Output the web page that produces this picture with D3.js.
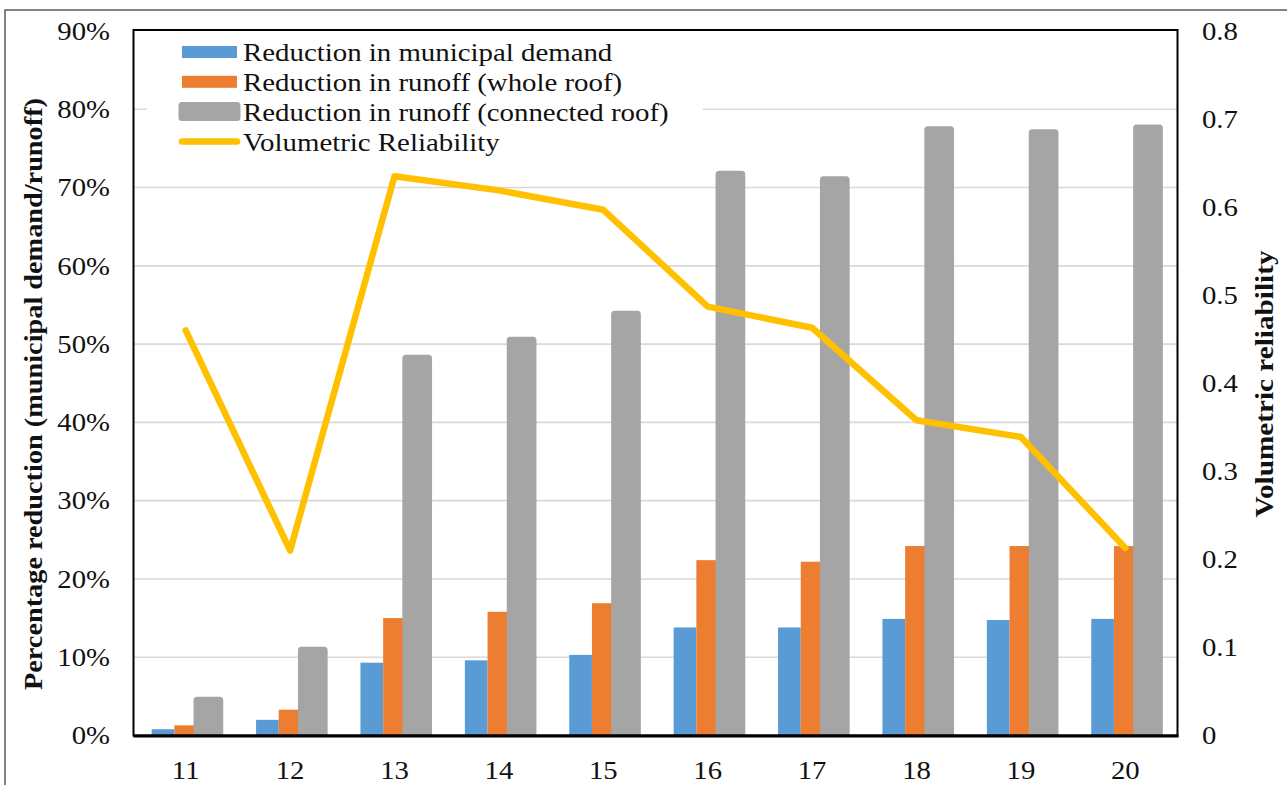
<!DOCTYPE html>
<html><head><meta charset="utf-8">
<script src="https://cdn.jsdelivr.net/npm/d3@7"></script>
<style>html,body{margin:0;padding:0;background:#fff;}svg{display:block;}</style>
</head><body>
<script>
const categories = ["11","12","13","14","15","16","17","18","19","20"];
const municipalDemand = [0.8, 2.0, 9.3, 9.6, 10.3, 13.8, 13.8, 14.9, 14.75, 14.9];
const runoffWhole = [1.3, 3.3, 15.0, 15.8, 16.9, 22.4, 22.2, 24.2, 24.2, 24.2];
const runoffConnected = [4.5, 10.9, 48.2, 50.5, 53.8, 71.7, 71.0, 77.4, 77.0, 77.6];
const reliability = [0.46, 0.21, 0.635, 0.619, 0.597, 0.487, 0.463, 0.358, 0.339, 0.213];
const leftTicks = [0,10,20,30,40,50,60,70,80,90];
const rightTicks = [0,0.1,0.2,0.3,0.4,0.5,0.6,0.7,0.8];
const seriesNames = ["Reduction in municipal demand","Reduction in runoff (whole roof)","Reduction in runoff (connected roof)","Volumetric Reliability"];

const W = 1287, H = 785;
const L = 133.5, R = 1177.5, T = 31, B = 735.5;
const colors = {blue:"#5B9BD5", orange:"#ED7D31", gray:"#A5A5A5", gold:"#FFC000"};
const font = "'Liberation Serif','Times New Roman',serif";

const svg = d3.select("body").append("svg").attr("width", W).attr("height", H);

// outer frame
svg.append("rect").attr("x",5).attr("y",10).attr("width",1300).attr("height",800)
  .attr("fill","none").attr("stroke","#444").attr("stroke-width",1.3);

const x = d3.scaleBand().domain(categories).range([L, R]).paddingInner(0).paddingOuter(0);
const sub = d3.scaleBand().domain(["d","w","c"]).range([0, x.bandwidth()]).paddingInner(0).paddingOuter(0.8);
const y = d3.scaleLinear().domain([0, 90]).range([B, T]);
const y2 = d3.scaleLinear().domain([0, 0.8]).range([B, T]);

function stext(parent, px, py, str, size, anchor, sx){
  const g = parent.append("g").attr("transform", `translate(${px},${py})`);
  g.append("text").attr("transform", `scale(${sx},1)`).attr("x",0).attr("y",0)
    .attr("dy","0.35em").attr("text-anchor", anchor)
    .attr("font-family", font).attr("font-size", size)
    .attr("fill","#111").text(str);
  return g;
}

// gridlines
svg.append("g").selectAll("line").data(leftTicks.filter(d=>d>0 && d<90)).join("line")
  .attr("x1", L).attr("x2", R).attr("y1", d=>y(d)).attr("y2", d=>y(d))
  .attr("stroke","#d9d9d9").attr("stroke-width",1.6);

// clip
svg.append("clipPath").attr("id","plotclip").append("rect")
  .attr("x", L).attr("y", T).attr("width", R-L).attr("height", B-T);

const bars = svg.append("g").attr("clip-path","url(#plotclip)");
const rows = categories.map((c,i)=>({c, d:municipalDemand[i], w:runoffWhole[i], g:runoffConnected[i], r:reliability[i]}));

bars.selectAll("rect.d").data(rows).join("rect").attr("class","d")
  .attr("x", r=>x(r.c)+sub("d")).attr("width", sub.bandwidth())
  .attr("y", r=>y(r.d)).attr("height", r=>y(0)-y(r.d)+2).attr("fill", colors.blue);
bars.selectAll("rect.w").data(rows).join("rect").attr("class","w")
  .attr("x", r=>x(r.c)+sub("w")).attr("width", sub.bandwidth())
  .attr("y", r=>y(r.w)).attr("height", r=>y(0)-y(r.w)+2).attr("fill", colors.orange);
bars.selectAll("rect.c").data(rows).join("rect").attr("class","c")
  .attr("x", r=>x(r.c)+sub("c")).attr("width", sub.bandwidth())
  .attr("y", r=>y(r.g)).attr("height", r=>y(0)-y(r.g)+6).attr("fill", colors.gray)
  .attr("stroke", colors.gray).attr("stroke-width",7).attr("stroke-linejoin","round");

// legend background
svg.append("rect").attr("x", 147).attr("y", 36).attr("width", 556).attr("height", 122).attr("fill","#fff");

// line
const line = d3.line().x(r=>x(r.c)+x.bandwidth()/2).y(r=>y2(r.r));
svg.append("path").datum(rows).attr("d", line).attr("fill","none")
  .attr("stroke", colors.gold).attr("stroke-width",6.5)
  .attr("stroke-linejoin","round").attr("stroke-linecap","round");

// plot border
svg.append("rect").attr("x", L).attr("y", 30).attr("width", R-L).attr("height", B-30)
  .attr("fill","none").attr("stroke","#000").attr("stroke-width",2);
svg.append("line").attr("x1", L).attr("x2", R+1).attr("y1", B+0.5).attr("y2", B+0.5)
  .attr("stroke","#000").attr("stroke-width",3);

// ticks
const gl = svg.append("g");
leftTicks.forEach(d=>stext(gl, 110, y(d), d+"%", 25, "end", 1.15));
const gr = svg.append("g");
rightTicks.forEach(d=>stext(gr, 1202, y2(d), d===0?"0":d3.format(".1f")(d), 25, "start", 1.15));
const gx = svg.append("g");
categories.forEach(c=>stext(gx, x(c)+x.bandwidth()/2, 770, c, 25, "middle", 1.15));

// axis titles
svg.append("text").attr("transform","translate(33,394) rotate(-90)")
  .attr("text-anchor","middle").attr("dy","0.35em")
  .attr("textLength", 592).attr("lengthAdjust","spacingAndGlyphs")
  .attr("font-family", font).attr("font-weight","bold").attr("font-size", 25).attr("fill","#111")
  .text("Percentage reduction (municipal demand/runoff)");
svg.append("text").attr("transform","translate(1264,384) rotate(-90)")
  .attr("text-anchor","middle").attr("dy","0.35em")
  .attr("textLength", 267).attr("lengthAdjust","spacingAndGlyphs")
  .attr("font-family", font).attr("font-weight","bold").attr("font-size", 25).attr("fill","#111")
  .text("Volumetric reliability");

// legend
const leg = svg.append("g");
const ly = i => 52 + i*29.8;
const swx = 182, sww = 55;
[colors.blue, colors.orange].forEach((col,i)=>{
  leg.append("rect").attr("x", swx).attr("y", ly(i)-6).attr("width", sww).attr("height", 12).attr("fill", col);
});
leg.append("rect").attr("x", swx).attr("y", ly(2)-6).attr("width", sww).attr("height", 12)
  .attr("fill", colors.gray).attr("stroke", colors.gray).attr("stroke-width",7).attr("stroke-linejoin","round");
leg.append("line").attr("x1", swx).attr("x2", swx+sww).attr("y1", ly(3)).attr("y2", ly(3))
  .attr("stroke", colors.gold).attr("stroke-width",6.5).attr("stroke-linecap","round");
seriesNames.forEach((s,i)=>stext(leg, 243, ly(i), s, 26, "start", 1.11));
</script>
</body></html>
